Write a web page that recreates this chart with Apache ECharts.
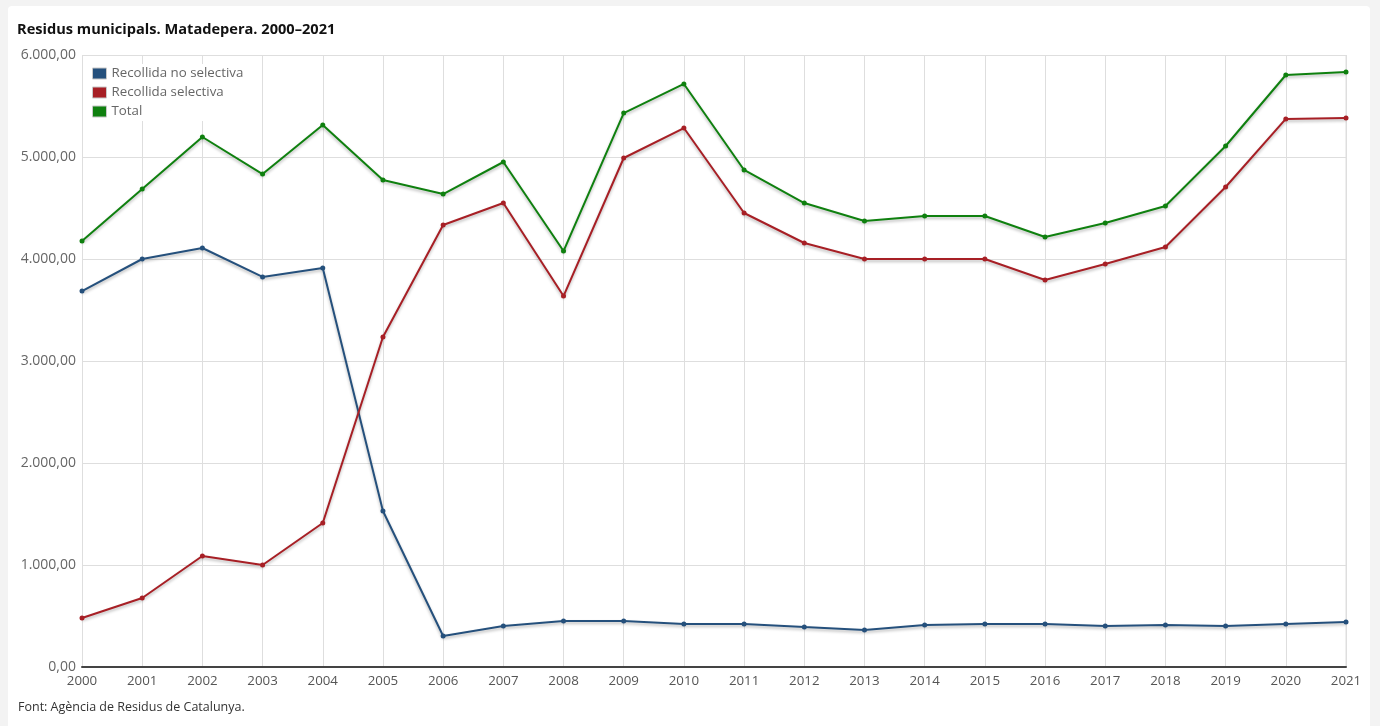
<!DOCTYPE html>
<html><head><meta charset="utf-8">
<script src="https://cdn.jsdelivr.net/npm/echarts@6/dist/echarts.min.js"></script>
<style>
html,body{margin:0;padding:0;background:#f3f3f3;}
#card{position:absolute;left:8px;top:6px;width:1362px;height:730px;background:#fff;border-radius:4px;}
#chart{position:absolute;left:0;top:0;width:1380px;height:726px;}
</style></head>
<body><div id="card"></div><div id="chart"></div>
<script>
const years = ['2000','2001','2002','2003','2004','2005','2006','2007','2008','2009','2010','2011','2012','2013','2014','2015','2016','2017','2018','2019','2020','2021'];
const noSelectiva = [3686,4000,4108,3824,3912,1529,304,402,451,451,422,422,392,363,412,422,422,402,412,402,422,441];
const selectiva = [480,676,1088,1000,1412,3235,4333,4549,3637,4990,5284,4451,4157,4000,4000,4000,3794,3951,4118,4706,5373,5382];
const total = [4176,4686,5196,4833,5314,4775,4637,4951,4078,5431,5716,4873,4549,4373,4422,4422,4216,4353,4520,5108,5804,5833];
const seriesNames = ['Recollida no selectiva','Recollida selectiva','Total'];
const colors = ['#25507c','#a71f25','#0f800f'];

function fmt(v){
  const s = v.toFixed(2).split('.');
  const int = s[0].replace(/\B(?=(\d{3})+(?!\d))/g,'.');
  return int + ',' + s[1];
}
const font = '"Open Sans", sans-serif';
const chart = echarts.init(document.getElementById('chart'), null, {renderer:'canvas'});
function mk(name, data, color){
  return {name, type:'line', data, symbol:'circle', symbolSize:5, showSymbol:true,
    lineStyle:{width:2, color, shadowColor:'rgba(0,0,0,0.28)', shadowBlur:3, shadowOffsetY:2},
    itemStyle:{color}, emphasis:{disabled:true}};
}
chart.setOption({
  animation:false,
  color: colors,
  title:{text:'Residus municipals. Matadepera. 2000–2021', left:12, top:17,
    textStyle:{fontFamily:font, fontSize:14.6, fontWeight:'bold', color:'#111'}},
  legend:{orient:'vertical', left:88, top:64, itemWidth:14, itemHeight:11, itemGap:6,
    icon:'rect', backgroundColor:'#fff', padding:[3,4],
    itemStyle:{borderColor:'#c8c8c8', borderWidth:1},
    textStyle:{fontFamily:font, fontSize:13.3, color:'#666'},
    data: seriesNames},
  grid:{left:82, right:34, top:55, bottom:59, containLabel:false},
  xAxis:{type:'category', data:years, boundaryGap:false,
    axisLine:{lineStyle:{color:'#444', width:2}},
    axisTick:{show:false},
    axisLabel:{fontFamily:font, fontSize:13.3, color:'#555', margin:8},
    splitLine:{show:true, lineStyle:{color:'#dedede', width:1}}},
  yAxis:{type:'value', min:0, max:6000, interval:1000,
    axisLine:{show:false}, axisTick:{show:false},
    axisLabel:{fontFamily:font, fontSize:14, color:'#666', margin:6, formatter:fmt},
    splitLine:{lineStyle:{color:'#dedede', width:1}}},
  graphic:[{type:'text', left:18, top:701, style:{text:'Font: Agència de Residus de Catalunya.', font:'12.5px "Open Sans", sans-serif', fill:'#333'}},
           {type:'line', shape:{x1:1346,y1:55,x2:1346,y2:667}, style:{stroke:'#dedede', lineWidth:1}, z:-1}],
  series:[mk(seriesNames[0], noSelectiva, colors[0]), mk(seriesNames[1], selectiva, colors[1]), mk(seriesNames[2], total, colors[2])]
});
</script></body></html>
